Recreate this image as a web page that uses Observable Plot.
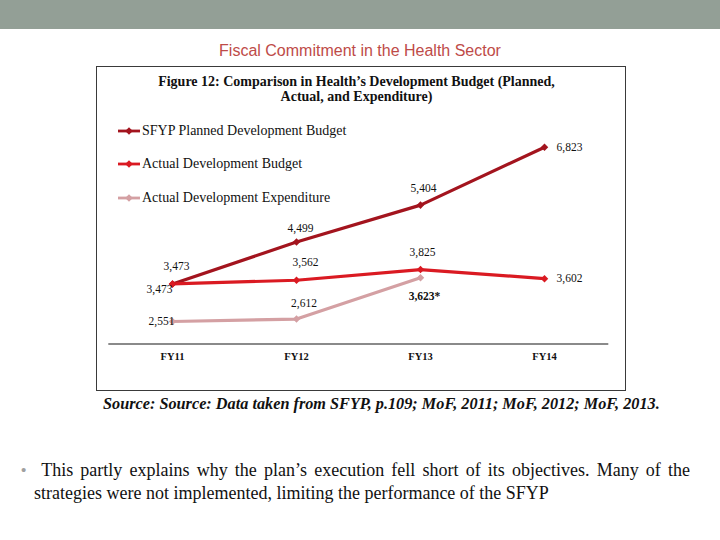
<!DOCTYPE html>
<html>
<head>
<meta charset="utf-8">
<script src="https://cdn.jsdelivr.net/npm/d3@7"></script>
<script src="https://cdn.jsdelivr.net/npm/@observablehq/plot@0.6"></script>
<style>
  html, body { margin: 0; padding: 0; background: #fff; }
  body { width: 720px; height: 540px; position: relative; overflow: hidden; }
  #bar { position: absolute; left: 0; top: 0; width: 720px; height: 29px; background: #939F96; }
  #slideTitle { position: absolute; left: 0; top: 42px; width: 720px; text-align: center;
    font: 16px "Liberation Sans", Arial, sans-serif; color: #BE4B48; line-height: 18px; }
  #box { position: absolute; left: 96px; top: 66px; width: 528px; height: 323px; border: 1px solid #3a3a3a; }
  #figTitle { position: absolute; left: 96px; top: 74px; width: 521px; text-align: center;
    font: bold 14px "Liberation Serif", "Times New Roman", serif; line-height: 15px; color: #111; }
  .leg { position: absolute; left: 118px; height: 14px; display: flex; align-items: center;
    font: 14px "Liberation Serif", "Times New Roman", serif; color: #111; white-space: nowrap; }
  .leg svg { margin-right: 1px; }
  #source { position: absolute; left: 103px; top: 395px; white-space: nowrap;
    font: italic bold 16.25px "Liberation Serif", "Times New Roman", serif; color: #111; }
  #bullet { position: absolute; left: 21px; top: 461px; font: 15px "Liberation Sans", Arial; color: #a0a0a0; }
  #para { position: absolute; left: 34px; top: 459px; width: 656px; text-align: justify; text-align-last: left;
    font: 18px "Liberation Serif", "Times New Roman", serif; line-height: 23px; color: #111; }
  #chart { position: absolute; left: 0; top: 0; }
</style>
</head>
<body>
<div id="bar"></div>
<div id="slideTitle">Fiscal Commitment in the Health Sector</div>
<div id="box"></div>
<div id="figTitle">Figure 12: Comparison in Health’s Development Budget (Planned,<br>Actual, and Expenditure)</div>
<div id="legend"></div>
<div id="source">Source: Source: Data taken from SFYP, p.109; MoF, 2011; MoF, 2012; MoF, 2013.</div>
<div id="bullet">•</div>
<div id="para">&nbsp;This partly explains why the plan’s execution fell short of its objectives. Many of the strategies were not implemented, limiting the performance of the SFYP</div>
<div id="chart"></div>
<script>
// ---- data ----
const years = ["FY11", "FY12", "FY13", "FY14"];
const seriesNames = ["SFYP Planned Development Budget", "Actual Development Budget", "Actual Development Expenditure"];
const plannedBudget = [3473, 4499, 5404, 6823];
const actualBudget = [3473, 3562, 3825, 3602];
const actualExpenditure = [2551, 2612, 3623];
const expenditureNotes = ["", "", "*"];
const seriesColors = ["#A3141E", "#DA1A22", "#D4A0A3"];

// ---- label placement (style only) ----
const labelOffsets = [
  [[4, -18, "middle"], [4, -14, "middle"], [3, -17, "middle"], [12, 0, "start"]],
  [[-13, 5, "middle"], [9, -18, "middle"], [2, -17, "middle"], [12, 0, "start"]],
  [[-11, 0, "middle"], [7.5, -16, "middle"], [4, 19, "middle"]]
];

const seriesValues = [plannedBudget, actualBudget, actualExpenditure];
const rows = [];
seriesValues.forEach((vals, s) => vals.forEach((v, i) => rows.push({
  series: seriesNames[s], s, i, year: years[i], value: v,
  label: d3.format(",")(v) + (s === 2 ? expenditureNotes[i] : "")
})));

// legend (HTML)
const legendTops = [123.5, 157, 190.5];
const legend = document.getElementById("legend");
seriesNames.forEach((name, s) => {
  const div = document.createElement("div");
  div.className = "leg";
  div.style.top = legendTops[s] + "px";
  div.innerHTML = `<svg width="23" height="14"><line x1="0" x2="22" y1="7" y2="7" stroke="${seriesColors[s]}" stroke-width="2.8"/>` +
    `<path d="M11 3.2 L14.8 7 L11 10.8 L7.2 7 Z" fill="${seriesColors[s]}"/></svg>${name}`;
  legend.appendChild(div);
});

const fmtFont = "Liberation Serif, Times New Roman, serif";
const labelMarks = rows.map(d => {
  const [dx, dy, anchor] = labelOffsets[d.s][d.i];
  return Plot.text([d], {
    x: "year", y: "value", text: "label", dx, dy, textAnchor: anchor,
    fontSize: 11.5, fontFamily: fmtFont, fill: "#111",
    fontWeight: d.s === 2 && d.i === 2 ? "bold" : "normal"
  });
});

const chart = Plot.plot({
  width: 720,
  height: 540,
  marginLeft: 108.3,
  marginRight: 111.7,
  marginTop: 98.7,
  marginBottom: 196.5,
  style: { background: "transparent", overflow: "visible" },
  x: { type: "point", domain: years, padding: 0.5 },
  y: { domain: [2000, 8000], axis: null },
  color: { domain: seriesNames, range: seriesColors },
  marks: [
    Plot.ruleY([2000], { stroke: "#8a8a8a", strokeWidth: 2 }),
    Plot.axisX({ tickSize: 0, tickPadding: 9, fontSize: 10.5, fontWeight: "bold", fontFamily: fmtFont, fill: "#111", label: null }),
    Plot.line(rows, { x: "year", y: "value", z: "series", stroke: "series", strokeWidth: 3.2, sort: { channel: "x" } }),
    Plot.dot(rows, { x: "year", y: "value", fill: "series", symbol: "square", r: 3, rotate: 45, stroke: null }),
    ...labelMarks
  ]
});
document.getElementById("chart").appendChild(chart);
</script>
</body>
</html>
